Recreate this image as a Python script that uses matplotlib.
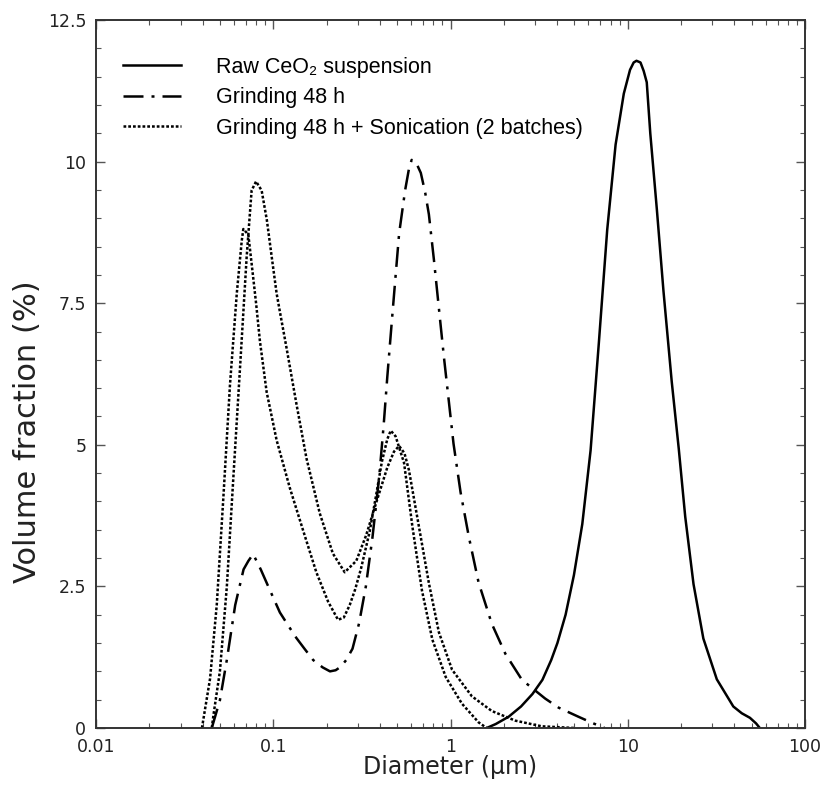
import numpy as np
import matplotlib
matplotlib.use("Agg")
import matplotlib.pyplot as plt
from matplotlib.ticker import FixedLocator, MultipleLocator, FuncFormatter

# --- data (diameter in um, volume fraction in %) ---
raw_d = [1.6, 1.8, 2.13, 2.5, 2.9, 3.3, 3.7, 4.01, 4.46, 4.97, 5.54, 6.17,
         6.87, 7.66, 8.54, 9.5, 10.3, 10.8, 11.2, 11.8, 12.3, 12.8, 13.4, 14.6,
         15.9, 17.7, 19.4, 21.1, 23.5, 26.7, 31.8, 39.4, 44.0, 48.9, 53.0, 55.6]
raw_v = [0.0, 0.07, 0.2, 0.38, 0.6, 0.85, 1.2, 1.5, 2.0, 2.7, 3.6, 4.9,
         6.8, 8.8, 10.3, 11.2, 11.62, 11.75, 11.78, 11.75, 11.6, 11.4, 10.5, 9.15,
         7.72, 6.12, 4.93, 3.73, 2.54, 1.58, 0.86, 0.38, 0.26, 0.18, 0.08, 0.0]

grind_d = [0.045, 0.050, 0.0547, 0.061, 0.068, 0.0724, 0.077, 0.085, 0.094, 0.109,
           0.122, 0.135, 0.15, 0.168, 0.19, 0.209, 0.225, 0.24, 0.258, 0.28, 0.305,
           0.333, 0.363, 0.396, 0.42, 0.44, 0.47, 0.513, 0.555, 0.585, 0.604,
           0.64, 0.68, 0.72, 0.755, 0.806, 0.86, 0.918, 0.98, 1.04, 1.14, 1.27,
           1.44, 1.71, 2.04, 2.53, 3.42, 4.07, 5.26, 6.3, 7.4]
grind_v = [0.0, 0.49, 1.2, 2.17, 2.8, 2.95, 3.07, 2.8, 2.49, 2.04,
           1.8, 1.59, 1.4, 1.2, 1.07, 1.0, 1.02, 1.08, 1.2, 1.4, 1.85,
           2.5, 3.37, 4.43, 5.36, 6.2, 7.3, 8.73, 9.5, 9.9, 10.03,
           9.98, 9.8, 9.45, 9.07, 8.27, 7.41, 6.55, 5.75, 5.02, 4.16, 3.37,
           2.57, 1.84, 1.31, 0.85, 0.52, 0.36, 0.2, 0.09, 0.0]

sonA_d = [0.0396, 0.044, 0.048, 0.0524, 0.057, 0.0623, 0.0664, 0.0678, 0.0705,
          0.0724, 0.0755, 0.080, 0.0841, 0.0918, 0.1045, 0.124, 0.148, 0.175,
          0.204, 0.232, 0.25, 0.27, 0.29, 0.313, 0.35, 0.38, 0.41, 0.44, 0.46,
          0.49, 0.547, 0.61, 0.69, 0.79, 0.94, 1.16, 1.44, 1.6]
sonA_v = [0.0, 0.87, 2.17, 4.11, 6.06, 7.68, 8.6, 8.81, 8.75,
          8.7, 8.2, 7.5, 6.83, 5.93, 5.08, 4.24, 3.47, 2.75,
          2.23, 1.91, 1.95, 2.17, 2.45, 2.82, 3.47, 4.1, 4.7, 5.1, 5.25,
          5.15, 4.68, 3.55, 2.43, 1.56, 0.9, 0.43, 0.1, 0.0]

sonB_d = [0.045, 0.046, 0.050, 0.0547, 0.0596, 0.065, 0.0708, 0.0755, 0.080, 0.086,
          0.092, 0.098, 0.1045, 0.109, 0.119, 0.135, 0.154, 0.183, 0.217, 0.253,
          0.294, 0.334, 0.381, 0.44, 0.48, 0.513, 0.55, 0.583, 0.664, 0.755, 0.86,
          1.02, 1.32, 1.71, 2.32, 3.27, 5.0]
sonB_v = [0.0, 0.23, 1.0, 2.49, 4.44, 6.38, 8.32, 9.49, 9.65, 9.49,
          8.97, 8.32, 7.67, 7.35, 6.7, 5.73, 4.76, 3.79, 3.08, 2.75,
          2.95, 3.4, 3.98, 4.6, 4.88, 4.98, 4.85, 4.55, 3.55, 2.56, 1.69,
          1.03, 0.56, 0.30, 0.13, 0.03, 0.0]

labels = ["Raw CeO\u2082 suspension", "Grinding 48 h",
          "Grinding 48 h + Sonication (2 batches)"]

LW = 1.8
DASHDOT = (0, (8, 3.2, 1.2, 3.2))
DOTTED = (0, (1.1, 0.8))

fig = plt.figure(figsize=(8.23, 7.97), dpi=100)
ax = fig.add_axes([96 / 823, 1 - 728 / 797, 709 / 823, 708 / 797])

ax.plot(raw_d, raw_v, color="black", lw=LW, ls="-", label=labels[0])
ax.plot(grind_d, grind_v, color="black", lw=LW, ls=DASHDOT, label=labels[1])
ax.plot(sonA_d, sonA_v, color="black", lw=LW, ls=DOTTED, label=labels[2])
ax.plot(sonB_d, sonB_v, color="black", lw=LW, ls=DOTTED)

ax.set_xscale("log")
ax.set_xlim(0.01, 100)
ax.set_ylim(0, 12.5)
ax.xaxis.set_major_locator(FixedLocator([0.01, 0.1, 1, 10, 100]))
ax.xaxis.set_major_formatter(FuncFormatter(lambda v, p: f"{v:g}"))
ax.yaxis.set_major_locator(MultipleLocator(2.5))
ax.yaxis.set_minor_locator(MultipleLocator(0.5))
ax.yaxis.set_major_formatter(FuncFormatter(lambda v, p: f"{v:g}"))

ax.tick_params(which="both", direction="in", top=True, right=True,
               color="#555555", labelcolor="#222222", labelsize=12.5)
ax.tick_params(which="major", length=6.5, width=1.0, pad=7)
ax.tick_params(which="minor", length=3.6, width=0.8)
for s in ax.spines.values():
    s.set_linewidth(1.4)
    s.set_color("#333333")

ax.set_xlabel("Diameter (\u00b5m)", fontsize=17, color="#222222")
ax.set_ylabel("Volume fraction (%)", fontsize=22, color="#222222")
ax.xaxis.set_label_coords(0.5, -0.038)
ax.xaxis.label.set_va("top")
ax.yaxis.set_label_coords(-0.076, 0.418)

leg = ax.legend(loc="upper left", bbox_to_anchor=(0.02, 0.966), frameon=False,
                prop={"family": ["Liberation Sans", "DejaVu Sans"], "size": 15.5},
                handlelength=2.7, handletextpad=1.6, labelspacing=0.43,
                borderaxespad=0.2)

fig.savefig("out.png", dpi=100)
